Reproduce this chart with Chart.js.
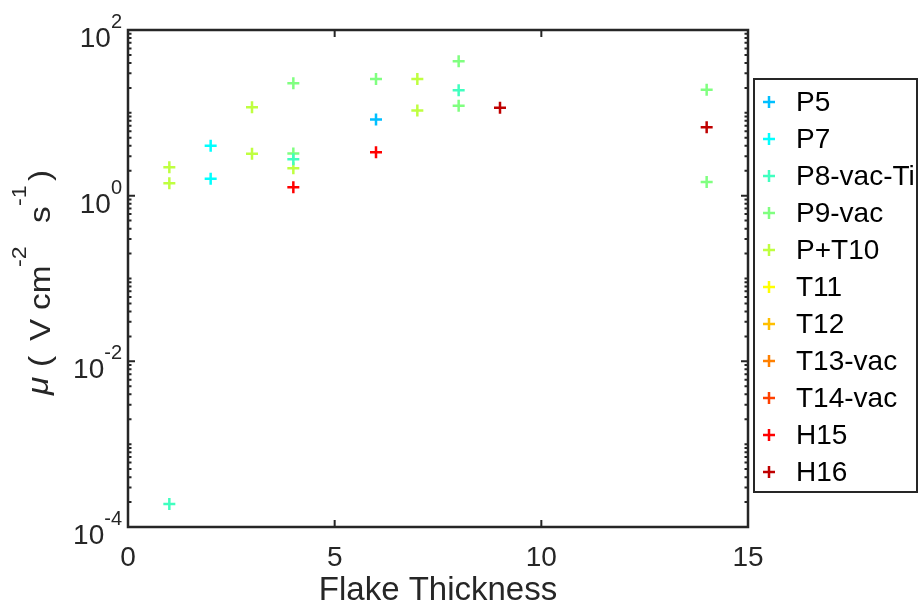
<!DOCTYPE html>
<html>
<head>
<meta charset="utf-8">
<script src="https://cdn.jsdelivr.net/npm/chart.js@4"></script>
<style>
  html, body { margin: 0; padding: 0; background: #fff; }
  #wrap { width: 919px; height: 614px; }
</style>
</head>
<body>
<div id="wrap"><canvas id="mobilityChart" width="919" height="614"></canvas></div>
<script>
// series names (legend order)
const seriesNames = ['P5', 'P7', 'P8-vac-Ti', 'P9-vac', 'P+T10', 'T11', 'T12', 'T13-vac', 'T14-vac', 'H15', 'H16'];

// flake thickness per series
const thicknessBySeries = [
    [6],
    [2, 2],
    [4, 8, 1],
    [4, 4, 6, 8, 8, 14, 14],
    [1, 1, 3, 3, 4, 7, 7],
    [],
    [],
    [],
    [],
    [4, 6],
    [9, 14]
];

// mobility per series (V cm^-2 s^-1)
const mobilityBySeries = [
    [8.3],
    [4.0, 1.6],
    [2.75, 18.7, 0.00019],
    [22.7, 3.24, 25.6, 42, 12.2, 19, 1.46],
    [2.2, 1.41, 11.7, 3.21, 2.14, 25.6, 10.7],
    [],
    [],
    [],
    [],
    [1.26, 3.34],
    [11.5, 6.7]
];

// jet colours
const seriesColours = ['#00bfff', '#00ffff', '#40ffbf', '#80ff80', '#bfff40', '#ffff00',
    '#ffbf00', '#ff8000', '#ff4000', '#ff0000', '#bf0000'];

const xTicks = [0, 5, 10, 15];
const yTickExponents = [-4, -2, 0, 2];

const FONT = "'Liberation Sans', Arial, sans-serif";
const INK = '#262626';

const datasets = seriesNames.map((name, i) => ({
    label: name,
    data: thicknessBySeries[i].map((x, j) => ({ x: x, y: mobilityBySeries[i][j] })),
    pointStyle: 'cross',
    pointRadius: 6,
    pointBorderWidth: 2.5,
    borderColor: seriesColours[i],
    backgroundColor: seriesColours[i]
}));

// frame, ticks, y labels, y title, legend
const matlabAxes = {
    id: 'matlabAxes',
    afterDraw(chart) {
        const ctx = chart.ctx;
        const a = chart.chartArea;
        const xs = chart.scales.x;
        const ys = chart.scales.y;
        ctx.save();
        ctx.strokeStyle = INK;
        ctx.lineWidth = 2.5;
        ctx.strokeRect(a.left, a.top, a.right - a.left, a.bottom - a.top);

        // x ticks, bottom and top
        ctx.lineWidth = 2;
        xTicks.forEach(v => {
            const px = xs.getPixelForValue(v);
            ctx.beginPath();
            ctx.moveTo(px, a.bottom); ctx.lineTo(px, a.bottom - 7);
            ctx.moveTo(px, a.top); ctx.lineTo(px, a.top + 7);
            ctx.stroke();
        });

        // y ticks (major at labelled decades, minor elsewhere)
        for (let e = yTickExponents[0]; e <= yTickExponents[yTickExponents.length - 1]; e++) {
            for (let m = 1; m <= 9; m++) {
                const v = m * Math.pow(10, e);
                if (v > ys.max) break;
                const py = ys.getPixelForValue(v);
                const len = (m === 1 && yTickExponents.includes(e)) ? 7 : 3.5;
                ctx.beginPath();
                ctx.moveTo(a.left, py); ctx.lineTo(a.left + len, py);
                ctx.moveTo(a.right, py); ctx.lineTo(a.right - len, py);
                ctx.stroke();
            }
        }

        // y tick labels 10^e
        ctx.fillStyle = INK;
        ctx.textBaseline = 'alphabetic';
        yTickExponents.forEach(e => {
            const py = ys.getPixelForValue(Math.pow(10, e));
            ctx.font = '20px ' + FONT;
            const sup = String(e);
            const supW = ctx.measureText(sup).width;
            ctx.textAlign = 'right';
            ctx.fillText(sup, 122, py - 2);
            ctx.font = '28px ' + FONT;
            ctx.fillText('10', 122 - supW, py + 17);
        });

        // y title: mu (V cm^-2 s^-1), written bottom to top
        const S = 1.15;
        ctx.translate(50, 395);
        ctx.rotate(-Math.PI / 2);
        ctx.scale(S, 1);
        const parts = [
            { t: '\u03bc', f: 'italic 29px ' + FONT, u: 0, dy: -2 },
            { t: '(', f: '29px ' + FONT, u: 28, dy: 0 },
            { t: 'V', f: '29px ' + FONT, u: 54, dy: 0 },
            { t: 'cm', f: '29px ' + FONT, u: 85, dy: 0 },
            { t: '-2', f: '20px ' + FONT, u: 128, dy: -24 },
            { t: 's', f: '29px ' + FONT, u: 172, dy: 0 },
            { t: '-1', f: '20px ' + FONT, u: 189, dy: -24 },
            { t: ')', f: '29px ' + FONT, u: 214, dy: 0 }
        ];
        ctx.textAlign = 'left';
        parts.forEach(p => {
            ctx.font = p.f;
            ctx.fillText(p.t, p.u / S, p.dy);
        });
        ctx.restore();

        // legend
        ctx.save();
        ctx.strokeStyle = INK;
        ctx.lineWidth = 2;
        ctx.strokeRect(754, 79, 163, 413);
        ctx.font = '28px ' + FONT;
        ctx.textBaseline = 'middle';
        ctx.textAlign = 'left';
        seriesNames.forEach((name, i) => {
            const ly = 102 + i * 37;
            ctx.strokeStyle = seriesColours[i];
            ctx.lineWidth = 2.5;
            ctx.beginPath();
            ctx.moveTo(763, ly); ctx.lineTo(775, ly);
            ctx.moveTo(769, ly - 6); ctx.lineTo(769, ly + 6);
            ctx.stroke();
            ctx.fillStyle = '#000';
            ctx.fillText(name, 796, ly + 1);
        });
        ctx.restore();
    }
};

new Chart(document.getElementById('mobilityChart'), {
    type: 'scatter',
    data: { datasets: datasets },
    options: {
        responsive: false,
        animation: false,
        layout: { padding: { left: 0, top: 30, right: 171, bottom: 0 } },
        scales: {
            x: {
                type: 'linear',
                min: 0,
                max: 15,
                afterFit: s => { s.height = 87; },
                afterBuildTicks: s => { s.ticks = xTicks.map(v => ({ value: v })); },
                grid: { display: false },
                border: { display: false },
                ticks: {
                    color: INK,
                    font: { family: FONT, size: 28 },
                    padding: 6,
                    maxRotation: 0
                },
                title: {
                    display: true,
                    text: 'Flake Thickness',
                    color: INK,
                    font: { family: FONT, size: 33 },
                    padding: { top: 0, bottom: 3 }
                }
            },
            y: {
                type: 'logarithmic',
                min: 1e-4,
                max: 1e2,
                afterFit: s => { s.width = 128; },
                grid: { display: false },
                border: { display: false },
                ticks: { display: false }
            }
        },
        plugins: {
            legend: { display: false },
            tooltip: { enabled: false }
        }
    },
    plugins: [matlabAxes]
});
</script>
</body>
</html>
